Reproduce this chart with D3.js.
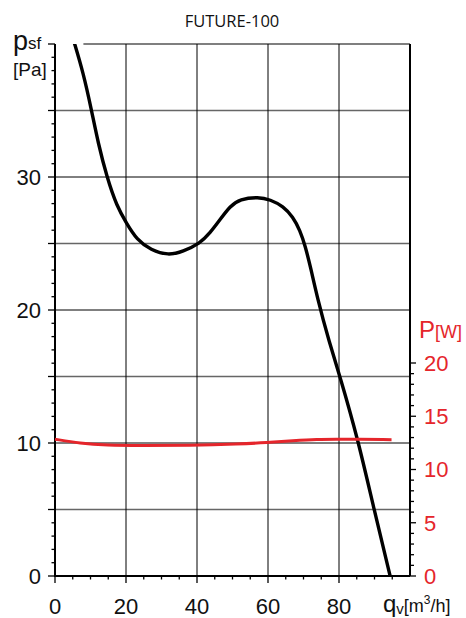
<!DOCTYPE html>
<html><head><meta charset="utf-8">
<script src="https://cdn.jsdelivr.net/npm/d3@7"></script>
<style>body{margin:0;background:#fff}svg{display:block}</style>
</head><body>
<script>
const title = "FUTURE-100";
const xTicks = [0, 20, 40, 60, 80];
const yTicks = [0, 10, 20, 30];
const pTicks = [0, 5, 10, 15, 20];
const pressureQ = [5.2, 8, 10.3, 12.2, 14.6, 17.4, 20.2, 23, 27, 32, 36, 40.8, 43.7, 46.5, 49.3, 52.1, 57.3, 60.6, 64.3, 67, 69, 70.5, 72, 74, 77, 80.3, 85.4, 89.7, 94.4];
const pressure  = [40.3, 37.8, 35, 32.5, 30, 27.8, 26.5, 25.3, 24.5, 24.1, 24.4, 25, 25.8, 26.8, 27.8, 28.35, 28.5, 28.3, 27.8, 27.0, 26.0, 24.8, 23.2, 20.8, 17.8, 15, 10.2, 5.2, 0];
const powerQ = [0, 7, 14.6, 24, 38, 52, 59.6, 67.1, 73.7, 80.3, 94.8];
const power  = [12.85, 12.45, 12.27, 12.25, 12.27, 12.4, 12.52, 12.7, 12.84, 12.85, 12.8];

const W = 466, H = 618;
const svg = d3.select("body").append("svg").attr("width", W).attr("height", H);
const x = d3.scaleLinear().domain([0, 100]).range([55, 410]);
const y = d3.scaleLinear().domain([0, 40]).range([576, 44]);
const yp = d3.scaleLinear().domain([0, 20]).range([576, 363]);
const red = "#e5252b";
const font = "'Liberation Sans', Arial, sans-serif";

svg.append("text").attr("x", 232).attr("y", 27).attr("text-anchor", "middle")
  .attr("font-family", "'Open Sans', sans-serif").attr("font-size", 16.5).attr("fill", "#111").text(title);

svg.append("defs").append("clipPath").attr("id", "clip").append("rect")
  .attr("x", x(0)).attr("y", y(40)).attr("width", x(100) - x(0)).attr("height", y(0) - y(40));

// grid
const g = svg.append("g");
d3.range(5, 40, 5).forEach(v => {
  const major = v % 10 === 0;
  g.append("line").attr("x1", x(0)).attr("x2", x(100)).attr("y1", y(v)).attr("y2", y(v))
    .attr("stroke", major ? "#000" : "#666").attr("stroke-width", major ? 1 : 1.5);
});
xTicks.filter(v => v > 0).forEach(v => {
  g.append("line").attr("x1", x(v)).attr("x2", x(v)).attr("y1", y(0)).attr("y2", y(40))
    .attr("stroke", "#000").attr("stroke-width", 1);
});
g.append("line").attr("x1", x(8)).attr("x2", x(100)).attr("y1", y(40)).attr("y2", y(40)).attr("stroke", "#000").attr("stroke-width", 1.2);
g.append("line").attr("x1", x(100)).attr("x2", x(100)).attr("y1", y(40)).attr("y2", y(0)).attr("stroke", "#000").attr("stroke-width", 2);

// left axis
const la = svg.append("g");
la.append("line").attr("x1", x(0)).attr("x2", x(0)).attr("y1", y(0) + 1).attr("y2", y(40)).attr("stroke", "#000").attr("stroke-width", 2);
d3.range(0, 41, 1).forEach(v => {
  const len = v % 5 === 0 ? 7 : 3.5;
  la.append("line").attr("x1", x(0) - len).attr("x2", x(0)).attr("y1", y(v)).attr("y2", y(v)).attr("stroke", "#000").attr("stroke-width", 1.3);
});
yTicks.forEach(v => {
  la.append("text").attr("x", 41).attr("y", y(v)).attr("dy", "0.36em").attr("text-anchor", "end")
    .attr("font-family", font).attr("font-size", 22).attr("fill", "#111").text(v);
});
const pl = la.append("text").attr("x", 13).attr("y", 50).attr("font-family", font).attr("fill", "#111");
pl.append("tspan").attr("font-size", 27).text("p");
pl.append("tspan").attr("font-size", 17).attr("dy", -1).text("sf");
la.append("text").attr("x", 13).attr("y", 76).attr("font-family", font).attr("font-size", 19).attr("fill", "#111").text("[Pa]");

// bottom axis
const ba = svg.append("g");
ba.append("line").attr("x1", x(0)).attr("x2", x(100)).attr("y1", y(0)).attr("y2", y(0)).attr("stroke", "#000").attr("stroke-width", 2);
d3.range(0, 96, 5).forEach(v => {
  const len = v % 20 === 0 ? 7 : 3.5;
  ba.append("line").attr("x1", x(v)).attr("x2", x(v)).attr("y1", y(0)).attr("y2", y(0) + len).attr("stroke", "#000").attr("stroke-width", 1.3);
});
xTicks.forEach(v => {
  ba.append("text").attr("x", x(v)).attr("y", 614).attr("text-anchor", "middle")
    .attr("font-family", font).attr("font-size", 22).attr("fill", "#111").text(v);
});
const ql = ba.append("text").attr("x", 383).attr("y", 612).attr("font-family", font).attr("fill", "#111");
ql.append("tspan").attr("font-size", 24).text("q");
ql.append("tspan").attr("font-size", 15).attr("dy", 2).text("v");
ql.append("tspan").attr("font-size", 18).attr("dy", -2).text("[m");
ql.append("tspan").attr("font-size", 12).attr("dy", -8).text("3");
ql.append("tspan").attr("font-size", 18).attr("dy", 8).text("/h]");

// right axis
const ra = svg.append("g");
d3.range(0, 21, 1).forEach(v => {
  const len = v % 5 === 0 ? 6 : 4;
  ra.append("line").attr("x1", x(100)).attr("x2", x(100) + len).attr("y1", yp(v)).attr("y2", yp(v)).attr("stroke", "#000").attr("stroke-width", 1.3);
});
pTicks.forEach(v => {
  ra.append("text").attr("x", 424).attr("y", yp(v)).attr("dy", "0.36em")
    .attr("font-family", font).attr("font-size", 22).attr("fill", red).text(v);
});
const prl = ra.append("text").attr("x", 419).attr("y", 338).attr("font-family", font).attr("fill", red);
prl.append("tspan").attr("font-size", 24).text("P");
prl.append("tspan").attr("font-size", 18).text("[W]");

// curves
const lineP = d3.line().x((d, i) => x(pressureQ[i])).y(d => y(d)).curve(d3.curveBasis);
svg.append("path").attr("d", lineP(pressure)).attr("fill", "none").attr("stroke", "#000")
  .attr("stroke-width", 3.4).attr("stroke-linejoin", "round").attr("clip-path", "url(#clip)");
const lineW = d3.line().x((d, i) => x(powerQ[i])).y(d => yp(d)).curve(d3.curveBasis);
svg.append("path").attr("d", lineW(power)).attr("fill", "none").attr("stroke", red)
  .attr("stroke-width", 3);
</script>
</body></html>
